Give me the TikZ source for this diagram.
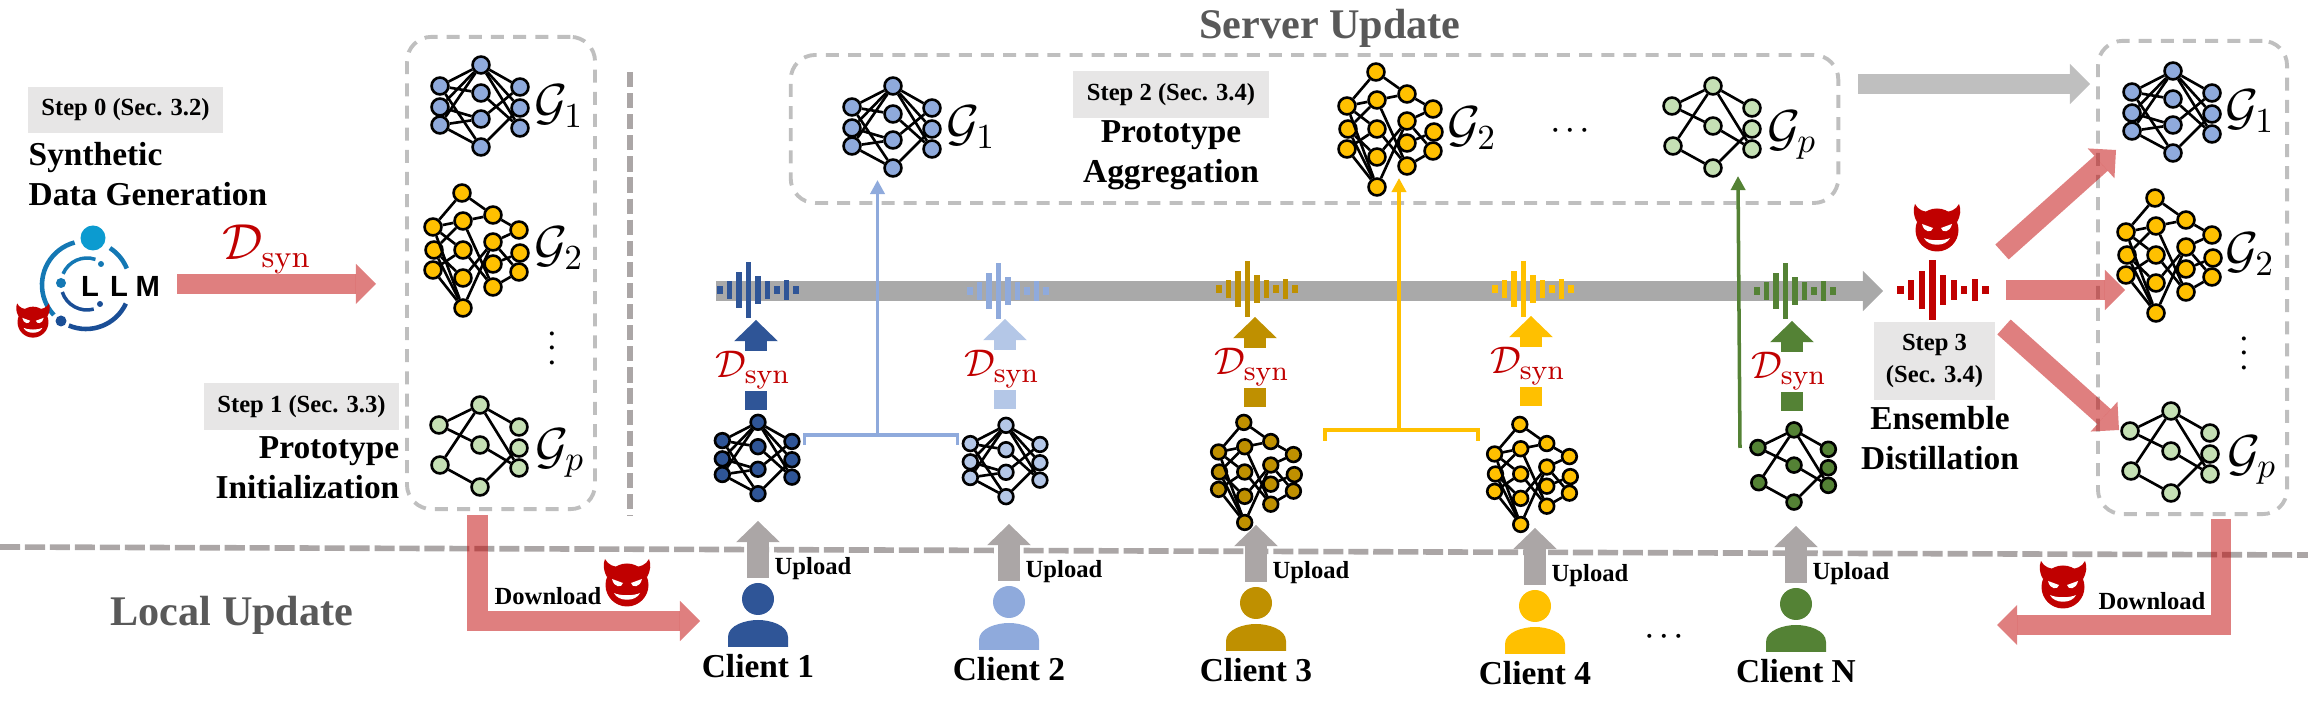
\documentclass[tikz,border=0pt]{standalone}
\usepackage[no-math]{fontspec}
\setmainfont{Liberation Serif}
\newfontfamily\logofont{Liberation Sans}
\usetikzlibrary{arrows.meta}

\definecolor{clientA}{HTML}{2F5597}
\definecolor{clientB}{HTML}{8FAADC}
\definecolor{clientBlight}{HTML}{B4C7E7}
\definecolor{clientC}{HTML}{BF9000}
\definecolor{clientD}{HTML}{FFC000}
\definecolor{clientN}{HTML}{548235}
\definecolor{protoP}{HTML}{C5E0B4}
\definecolor{evilred}{HTML}{C00000}
\definecolor{stepgray}{HTML}{E7E6E6}
\definecolor{rulegray}{HTML}{ABA6A6}
\definecolor{boxgray}{HTML}{BFBFBF}
\definecolor{bargray}{HTML}{A9A9A9}
\definecolor{titlegray}{HTML}{595959}
\definecolor{logotop}{HTML}{0C9BD0}
\definecolor{logomid}{HTML}{1478B4}
\definecolor{logodark}{HTML}{1A4E96}

\begin{document}
\begin{tikzpicture}[
    x=0.01cm,
    y=-0.01cm,
    netnode/.style={
        circle,
        draw = black,
        fill = #1,
        line width = 0.75pt,
        minimum size = 4.8pt,
        inner sep = 0pt,
        transform shape,
        },
    netedge/.style={
        line width = 0.75pt,
        },
    dashbox/.style={
        draw = boxgray,
        line width = 1.1pt,
        rounded corners = 7pt,
        dash pattern = on 3.7pt off 2.6pt,
        },
    stepbox/.style={
        fill = stepgray,
        inner sep = 0pt,
        align = center,
        font = \fontsize{7}{9}\selectfont\bfseries,
        },
    boldtext/.style={
        inner sep = 0pt,
        font = \fontsize{9.5}{11.4}\selectfont\bfseries,
        },
    smalltext/.style={
        inner sep = 0pt,
        font = \fontsize{7}{9}\selectfont\bfseries,
        },
    titletext/.style={
        inner sep = 0pt,
        text = titlegray,
        font = \fontsize{12}{14}\selectfont\bfseries,
        },
    glabel/.style={
        inner sep = 0pt,
        font = \fontsize{14}{16}\selectfont,
        },
    synlabel/.style={
        inner sep = 0pt,
        text = evilred,
        font = \fontsize{#1}{15}\selectfont,
        },
    dotslabel/.style={
        inner sep = 0pt,
        font = \fontsize{7.5}{9}\selectfont\boldmath,
        },
    fatarrow/.style={
        line width = 5.7pt,
        -{Triangle[length=5.7pt,width=11.4pt,line width=0pt]},
        },
    evilarrow/.style={
        fatarrow,
        draw = evilred,
        opacity = 0.5,
        },
    thinarrow/.style={
        line width = 1pt,
        -{Triangle[length=4pt,width=4pt]},
        },
    uparrow/.style={
        line width = 6.3pt,
        -{Triangle[length=6pt,width=12.4pt,line width=0pt]},
        },
    netA/.pic={
        \foreach \nid/\nx/\ny in {i1/-41/-20,i2/-41/1,i3/-41/19,h1/0/-41,h2/0/-13,h3/0/13,h4/0/41,o1/39/-19,o2/39/2,o3/39/22}
            \node[netnode=#1] (-\nid) at (\nx,\ny) {};
        \foreach \from/\to in {i1/h1,i1/h2,i1/h4,i2/h1,i2/h3,i3/h1,i3/h3,i3/h4,h1/o1,h1/o2,h1/o3,h2/o3,h3/o1,h4/o2}
            \draw[netedge] (-\from) -- (-\to);
    },
    netB/.pic={
        \foreach \nid/\nx/\ny in {i1/-43/-23,i2/-42/0,i3/-43/20,h1/-14/-57,h2/-13/-29,h3/-13/0,h4/-13/28,h5/-13/58,m1/17/-35,m2/17/-8,m3/17/14,m4/17/37,o1/43/-20,o2/44/3,o3/43/22}
            \node[netnode=#1] (-\nid) at (\nx,\ny) {};
        \foreach \from/\to in {i1/h1,i1/h2,i1/h3,i1/h5,i2/h2,i2/h4,i2/h5,i3/h3,i3/h5,h1/m1,h2/m1,h2/m4,h3/m4,h4/m2,h5/m2,m1/o1,m2/o1,m2/o3,m3/o2,m4/o3}
            \draw[netedge] (-\from) -- (-\to);
    },
    netC/.pic={
        \foreach \nid/\nx/\ny in {i1/-41/-21,i2/-40/19,h1/0/-41,h2/0/-1,h3/0/41,o1/39/-19,o2/39/2,o3/39/22}
            \node[netnode=#1] (-\nid) at (\nx,\ny) {};
        \foreach \from/\to in {i1/h1,i1/h2,i2/h1,i2/h3,h1/o1,h1/o3,h2/o3,h3/o2}
            \draw[netedge] (-\from) -- (-\to);
    },
    wave/.pic={
        \foreach \bar/\h in {-4/4,-3/9,-2/18,-1/28,0/14,1/9,2/4,3/10,4/4}
            \fill[#1] ({\bar*9.5-2.8},-\h) rectangle ({\bar*9.5+2.8},\h);
    },
    synup/.pic={
        \coordinate (-foot) at (0,31);
        \coordinate (-tip) at (0,0);
        \draw[uparrow,draw=#1,fill=#1] (-foot) -- (-tip);
        \node[synlabel=11] (-label) at (-3,50) {$\mathcal{D}_{\mathrm{syn}}$};
        \fill[#1] (-11,71) rectangle (11,90);
    },
    devil/.pic={
        \fill[evilred] (0,3) circle (21.5);
        \fill[evilred] (-20,-5) .. controls (-24,-12) and (-24,-18) .. (-22,-23) .. controls (-19,-17) and (-13,-15) .. (-7,-15) -- cycle;
        \fill[evilred] (20,-5) .. controls (24,-12) and (24,-18) .. (22,-23) .. controls (19,-17) and (13,-15) .. (7,-15) -- cycle;
        \fill[white] (-15,-3) -- (-4,1) .. controls (-5,6) and (-13,6) .. (-15,-3) -- cycle;
        \fill[white] (15,-3) -- (4,1) .. controls (5,6) and (13,6) .. (15,-3) -- cycle;
        \fill[white] (-13,11) .. controls (-7,14) and (7,14) .. (13,11) .. controls (9,20) and (-9,20) .. (-13,11) -- cycle;
    },
    pics/client/.style 2 args={
        code={
            \fill[#1] (0,0) circle (16);
            \fill[#1] (-30,48) -- (-30,38) .. controls (-30,26) and (-12,21) .. (0,21) .. controls (12,21) and (30,26) .. (30,38) -- (30,48) -- cycle;
            \coordinate (-foot) at (0,-21);
            \coordinate (-tip) at (0,-78);
            \draw[uparrow,draw=rulegray] (-foot) -- (-tip);
            \node[smalltext] (-upload) at (55,-30) {Upload};
            \node[boldtext] (-name) at (0,67) {#2};
        }
    },
]
\useasboundingbox (0,0) rectangle (2308,704);

% separators
\coordinate (ruleleft) at (0,547);
\coordinate (ruleright) at (2308,555);
\draw[rulegray,line width=1.6pt,dash pattern=on 5.7pt off 1.4pt] (ruleleft) -- (ruleright);
\coordinate (sepup) at (630,72);
\coordinate (sepdown) at (630,516);
\draw[rulegray,line width=1.7pt,dash pattern=on 4.3pt off 1.7pt] (sepup) -- (sepdown);

% dashed groups
\node[dashbox,minimum width=1.88cm,minimum height=4.72cm] (leftbox) at (501,273) {};
\node[dashbox,minimum width=10.47cm,minimum height=1.48cm] (serverbox) at (1314.5,129) {};
\node[dashbox,minimum width=1.89cm,minimum height=4.73cm] (rightbox) at (2192.5,277.5) {};

% titles
\node[titletext] (servertitle) at (1330,28) {Server Update};
\node[titletext] (localtitle) at (232,615) {Local Update};

% logo
\draw[logomid,line width=1.3pt] (86,285)+(255:44) arc[start angle=255,end angle=137,radius=44];
\draw[logodark,line width=1.3pt] (86,285)+(113:44) arc[start angle=113,end angle=25,radius=44];
\draw[logomid,line width=1.3pt] (86,285)+(-57:44) arc[start angle=-57,end angle=-22,radius=44];
\draw[logomid,line width=1pt] (87,284)+(203:26) arc[start angle=203,end angle=289,radius=26];
\draw[logodark,line width=1pt] (87,284)+(162:26) arc[start angle=162,end angle=75,radius=26];
\fill[logotop] (93,238) circle (12.5);
\fill[logodark] (61,321) circle (5.5);
\fill[logomid] (61,283) circle (5);
\fill[logomid] (101,264) circle (3);
\fill[logodark] (100,304) circle (3);
\node[inner sep=0pt,font=\fontsize{8.3}{10}\logofont\bfseries] (llm) at (120.5,286) {L\hspace{3.2pt}L\hspace{2.2pt}M};
\pic[scale=0.72] (logodevil) at (33,320) {devil};

% step 0
\node[stepbox,minimum width=1.95cm,minimum height=0.455cm] (step0) at (125.5,110) {Step 0 (Sec. 3.2)};
\node[boldtext,anchor=west,align=left] (synthtext) at (28,174) {Synthetic\\Data Generation};
\coordinate (synstart) at (177,284);
\coordinate (synend) at (376,284);
\draw[evilarrow] (synstart) -- (synend);
\node[synlabel=13.5] (synbig) at (267,249) {$\mathcal{D}_{\mathrm{syn}}$};

% step 1
\pic (leftg1) at (481,106) {netA=clientB};
\pic (leftg2) at (476,250) {netB=clientD};
\pic (leftgp) at (480,446) {netC=protoP};
\node[glabel] (leftl1) at (559,106) {$\mathcal{G}_1$};
\node[glabel] (leftl2) at (559,248) {$\mathcal{G}_2$};
\node[glabel] (leftlp) at (560,453) {$\mathcal{G}_p$};
\node[dotslabel,rotate=90] (leftdots) at (552,348) {$\cdots$};
\node[stepbox,minimum width=1.95cm,minimum height=0.47cm] (step1) at (301.5,406.5) {Step 1 (Sec. 3.3)};
\node[boldtext,anchor=east,align=right] (inittext) at (400,468) {Prototype\\Initialization};

% gray bar
\coordinate (barstart) at (716,291);
\coordinate (barend) at (1883,291);
\draw[fatarrow,draw=bargray] (barstart) -- (barend);

% clients
\pic (client1) at (758,599) {client={clientA}{Client 1}};
\pic (client2) at (1009,602) {client={clientB}{Client 2}};
\pic (client3) at (1256,603) {client={clientC}{Client 3}};
\pic (client4) at (1535,606) {client={clientD}{Client 4}};
\pic (clientn) at (1796,604) {client={clientN}{Client N}};
\node[dotslabel] (clientdots) at (1664,636) {$\cdots$};

\pic[scale=0.87] (net1) at (758,458) {netA=clientA};
\pic[scale=0.87] (net2) at (1006,461) {netA=clientBlight};
\pic[scale=0.87] (net3) at (1256,472) {netB=clientC};
\pic[scale=0.87] (net4) at (1532,474) {netB=clientD};
\pic[scale=0.88] (netn) at (1794,466) {netC=clientN};

\pic (syn1) at (756,320) {synup=clientA};
\pic (syn2) at (1005,319) {synup=clientBlight};
\pic (syn3) at (1255,317) {synup=clientC};
\pic (syn4) at (1531,316) {synup=clientD};
\pic (synn) at (1792,321) {synup=clientN};

\pic (wave1) at (758,290) {wave=clientA};
\pic (wave2) at (1008,291) {wave=clientB};
\pic (wave3) at (1257,289) {wave=clientC};
\pic (wave4) at (1533,289) {wave=clientD};
\pic (waven) at (1795,291) {wave=clientN};

% step 2
\pic (serverg1) at (893,127) {netA=clientB};
\pic (serverg2) at (1390,129) {netB=clientD};
\pic (servergp) at (1713,127) {netC=protoP};
\node[glabel] (serverl1) at (971,127) {$\mathcal{G}_1$};
\node[glabel] (serverl2) at (1472,128) {$\mathcal{G}_2$};
\node[glabel] (serverlp) at (1792,135) {$\mathcal{G}_p$};
\node[dotslabel] (serverdots) at (1570,130) {$\cdots$};
\node[stepbox,minimum width=1.96cm,minimum height=0.47cm] (step2) at (1171,94.5) {Step 2 (Sec. 3.4)};
\node[boldtext,align=center] (aggtext) at (1171,155) {Prototype\\Aggregation};

% aggregation lines
\coordinate (blueleft) at (804.5,445);
\coordinate (blueright) at (957.5,445);
\coordinate (bluefork) at (877.5,435);
\coordinate (bluetip) at (877.5,180);
\draw[clientB,line width=1pt] (blueleft) |- (bluefork) -| (blueright);
\draw[thinarrow,draw=clientB,fill=clientB] (bluefork) -- (bluetip);
\coordinate (goldleft) at (1325,441);
\coordinate (goldright) at (1478,441);
\coordinate (goldfork) at (1399,430);
\coordinate (goldtip) at (1399,178);
\draw[clientD,line width=1pt] (goldleft) |- (goldfork) -| (goldright);
\draw[thinarrow,draw=clientD,fill=clientD] (goldfork) -- (goldtip);
\coordinate (greenfoot) at (1740,448);
\coordinate (greentip) at (1738,176);
\draw[thinarrow,draw=clientN,fill=clientN] (greenfoot) -- (greentip);

% step 3
\coordinate (copystart) at (1858,84);
\coordinate (copyend) at (2090,84);
\draw[fatarrow,draw=boxgray] (copystart) -- (copyend);
\pic[xscale=1.12,yscale=1.07] (wavered) at (1943,290) {wave=evilred};
\pic (stepdevil) at (1937,227) {devil};
\node[stepbox,minimum width=1.21cm,minimum height=0.78cm] (step3) at (1934.5,361) {Step 3\\(Sec. 3.4)};
\node[boldtext,align=center] (ensembletext) at (1940,438.5) {Ensemble\\Distillation};
\pic (rightg1) at (2173,112) {netA=clientB};
\pic (rightg2) at (2169,255) {netB=clientD};
\pic (rightgp) at (2171,452) {netC=protoP};
\node[glabel] (rightl1) at (2250,111) {$\mathcal{G}_1$};
\node[glabel] (rightl2) at (2250,254) {$\mathcal{G}_2$};
\node[glabel] (rightlp) at (2252,460) {$\mathcal{G}_p$};
\node[dotslabel,rotate=90] (rightdots) at (2244,353) {$\cdots$};
\coordinate (tailup) at (2002,252);
\coordinate (tipup) at (2116,150);
\coordinate (tailmid) at (2006,290);
\coordinate (tipmid) at (2125,290);
\coordinate (taildown) at (2004,327);
\coordinate (tipdown) at (2119,430);
\draw[evilarrow] (tailup) -- (tipup);
\draw[evilarrow] (tailmid) -- (tipmid);
\draw[evilarrow] (taildown) -- (tipdown);

% download
\coordinate (downleftstart) at (477.5,515);
\coordinate (downleftend) at (700,621);
\draw[evilarrow] (downleftstart) |- (downleftend);
\node[smalltext] (downlefttext) at (548,596) {Download};
\pic (downleftdevil) at (627,582) {devil};
\coordinate (downrightstart) at (2221,519);
\coordinate (downrightend) at (1997,625);
\draw[evilarrow] (downrightstart) |- (downrightend);
\node[smalltext] (downrighttext) at (2152,601) {Download};
\pic (downrightdevil) at (2063,584) {devil};

\end{tikzpicture}
\end{document}
